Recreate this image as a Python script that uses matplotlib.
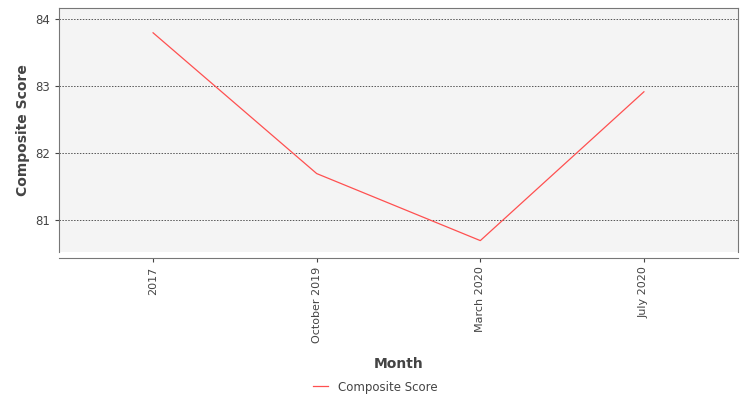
import matplotlib
matplotlib.use("Agg")
import matplotlib.pyplot as plt

months = ["2017", "October 2019", "March 2020", "July 2020"]
scores = [83.79, 81.69, 80.69, 82.91]

fig = plt.figure(figsize=(7.5, 4), dpi=100)
ax = fig.add_axes([59/750, 1-252/400, 679/750, 244/400])
ax.set_facecolor("#f4f4f4")
x = list(range(len(months)))
ax.plot(x, scores, color="#ff5050", lw=0.9, label="Composite Score")
ax.set_xlim(-0.575, 3.575)
ax.set_ylim(80.52, 84.16)
ax.set_yticks([81, 82, 83, 84])
ax.set_xticks(x)
ax.set_xticklabels(months)
ax.tick_params(axis="y", labelsize=8.5, colors="#444444", length=3)
ax.tick_params(axis="x", length=3, colors="#444444", labelsize=8, labelrotation=90)
ax.grid(axis="y", color="#555555", linestyle=(0, (1.5, 1.5)), lw=0.7)
for s in ["top", "right", "left", "bottom"]:
    ax.spines[s].set_color("#777777")
    ax.spines[s].set_linewidth(0.8)
ax.spines["bottom"].set_position(("outward", 4))
ax.set_ylabel("Composite Score", fontsize=10, fontweight="bold", color="#444444")
ax.set_xlabel("Month", fontsize=10, fontweight="bold", color="#444444", labelpad=10)
fig.legend(loc="center", bbox_to_anchor=(0.5, 1-387/400), frameon=False, fontsize=8.5,
           handlelength=1.3, labelcolor="#444444")
fig.savefig("out.png", dpi=100)
